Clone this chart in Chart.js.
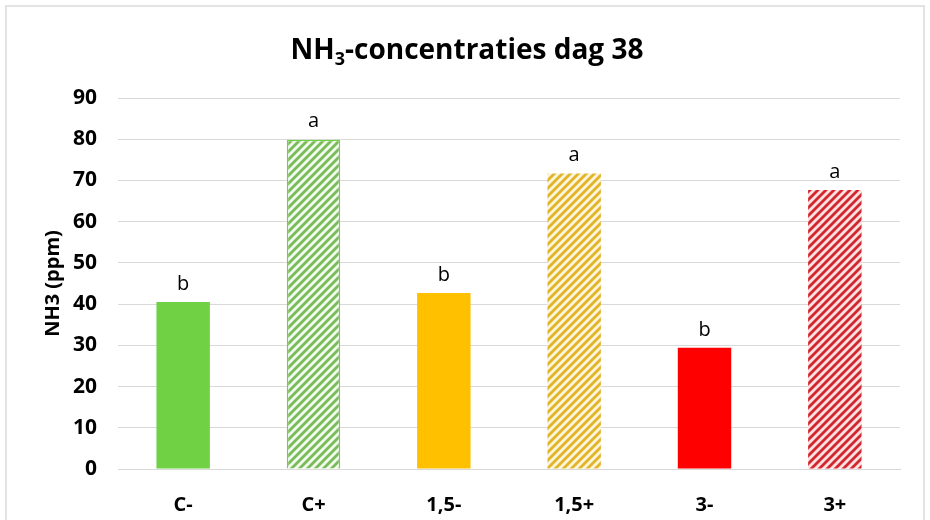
<!DOCTYPE html>
<html>
<head>
<meta charset="utf-8">
<script src="https://cdn.jsdelivr.net/npm/chart.js@4.4.1/dist/chart.umd.min.js"></script>
<style>
  html, body { margin: 0; padding: 0; background: #fff; }
  #wrap { position: relative; width: 930px; height: 520px; overflow: hidden; }
  #frame { position: absolute; left: 5px; top: 5px; width: 916px; height: 540px; border: 2px solid #e3e3e3; }
  canvas { position: absolute; left: 0; top: 0; }
</style>
</head>
<body>
<div id="wrap">
  <div id="frame"></div>
  <canvas id="myChart" width="930" height="520"></canvas>
</div>
<script>
// categorieen en waarden (NH3 in ppm, dag 38)
const labels = ['C-', 'C+', '1,5-', '1,5+', '3-', '3+'];
const waarden = [40.5, 79.9, 42.7, 71.7, 29.4, 67.7];
const letters = ['b', 'a', 'b', 'a', 'b', 'a'];
const yTicks = [0, 10, 20, 30, 40, 50, 60, 70, 80, 90];

const FONT = '"Open Sans", Lato, sans-serif';

// gestreept patroon voor de "+" behandelingen
function streep(kleur, achter) {
  const c = document.createElement('canvas');
  c.width = 8; c.height = 8;
  const g = c.getContext('2d');
  g.fillStyle = achter;
  g.fillRect(0, 0, 8, 8);
  g.strokeStyle = kleur;
  g.lineWidth = 2.8;
  g.beginPath();
  g.moveTo(-2, 10); g.lineTo(10, -2);
  g.moveTo(-6, 6); g.lineTo(6, -6);
  g.moveTo(2, 14); g.lineTo(14, 2);
  g.stroke();
  return c;
}

const ctx = document.getElementById('myChart').getContext('2d');
const pGroen = ctx.createPattern(streep('#78bb58', '#f1faec'), 'repeat');
const pGeel = ctx.createPattern(streep('#e2b42a', '#fdf5d8'), 'repeat');
const pRood = ctx.createPattern(streep('#d2262e', '#fde0e0'), 'repeat');

const kleuren = ['#6fd143', pGroen, '#ffc000', pGeel, '#ff0000', pRood];
const randen = ['#6fd143', '#6fd143', '#ffc000', '#ffc000', '#ff0000', '#ff0000'];
const randDikte = [0, 1.5, 0, 0, 0, 0];

// titel met subscript
const titelPlugin = {
  id: 'titel',
  afterDraw(chart) {
    const c = chart.ctx;
    c.save();
    c.fillStyle = '#000';
    c.textBaseline = 'alphabetic';
    const groot = 'bold 28px ' + FONT;
    const klein = 'bold 18px ' + FONT;
    c.font = groot;
    const w1 = c.measureText('NH').width;
    const w3 = c.measureText('-concentraties dag 38').width;
    c.font = klein;
    const w2 = c.measureText('3').width;
    let x = 467 - (w1 + w2 + w3) / 2;
    const y = 59;
    c.font = groot; c.fillText('NH', x, y); x += w1;
    c.font = klein; c.fillText('3', x, y + 6); x += w2;
    c.font = groot; c.fillText('-concentraties dag 38', x, y);
    c.restore();
  }
};

// letters boven de staven
const letterPlugin = {
  id: 'letters',
  afterDatasetsDraw(chart) {
    const c = chart.ctx;
    const meta = chart.getDatasetMeta(0);
    c.save();
    c.font = '20px ' + FONT;
    c.fillStyle = '#000';
    c.textAlign = 'center';
    c.textBaseline = 'middle';
    meta.data.forEach((bar, i) => {
      c.fillText(letters[i], bar.x, bar.y - 18);
    });
    c.restore();
  }
};

const config = {
  type: 'bar',
  data: {
    labels: labels,
    datasets: [{
      data: waarden,
      backgroundColor: kleuren,
      borderColor: randen,
      borderWidth: randDikte,
      categoryPercentage: 1,
      barPercentage: 0.41
    }]
  },
  options: {
    responsive: false,
    animation: false,
    layout: { padding: { left: 0, right: 30, top: 98, bottom: 0 } },
    plugins: {
      legend: { display: false },
      tooltip: { enabled: false },
      title: { display: false }
    },
    scales: {
      x: {
        grid: { display: false, drawTicks: false },
        border: { color: '#d9d9d9', width: 1 },
        ticks: { color: '#000', font: { family: FONT, size: 20, weight: 'bold' }, padding: 24 },
        afterFit(s) { s.height = 51; }
      },
      y: {
        min: 0,
        max: 90,
        afterBuildTicks(s) { s.ticks = yTicks.map(v => ({ value: v })); },
        grid: { color: '#d9d9d9', lineWidth: 1, drawTicks: false },
        border: { display: false },
        ticks: { color: '#000', font: { family: FONT, size: 21, weight: 'bold' }, padding: 21 },
        title: {
          display: true,
          text: 'NH3 (ppm)',
          color: '#000',
          font: { family: FONT, size: 20, weight: 'bold' },
          padding: { top: 41, bottom: 0 }
        },
        afterFit(s) { s.width = 118; }
      }
    }
  },
  plugins: [titelPlugin, letterPlugin]
};

const myChart = new Chart(ctx, config);
</script>
</body>
</html>
